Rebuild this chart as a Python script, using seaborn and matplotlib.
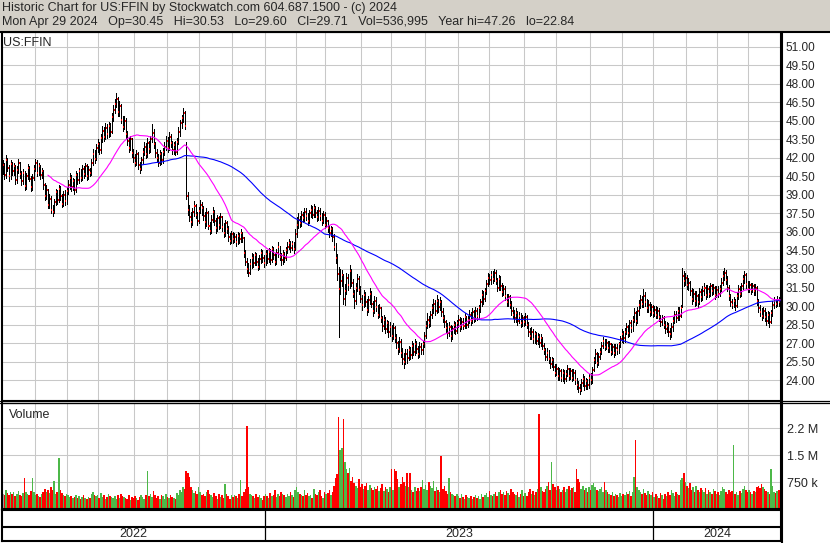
import numpy as np
import pandas as pd
import matplotlib
matplotlib.use('Agg')
import matplotlib.pyplot as plt
import seaborn as sns
from matplotlib.patches import Rectangle
from matplotlib.lines import Line2D

# US:FFIN daily bars (May 2022 - Apr 29 2024), 10 sessions per row
close = [
    41.4, 40.6, 41.8, 41.2, 40.5, 41.5, 40.9, 41.3, 40.2, 41.0,
    41.6, 40.7, 40.1, 40.8, 39.7, 40.5, 41.2, 40.3, 39.6, 40.4,
    41.1, 41.6, 40.8, 41.3, 40.6, 40.9, 39.8, 38.9, 39.4, 38.2,
    38.7, 37.8, 37.6, 38.4, 39.2, 38.6, 39.5, 38.9, 38.3, 39.0,
    38.5, 39.3, 39.8, 40.4, 39.6, 40.1, 39.4, 40.6, 40.2, 40.9,
    40.4, 41.1, 40.7, 41.3, 40.5, 41.0, 40.8, 41.6, 42.3, 41.9,
    42.8, 43.1, 42.6, 43.6, 44.2, 43.7, 44.4, 43.9, 44.6, 44.1,
    45.3, 45.9, 46.4, 46.8, 45.7, 46.2, 45.1, 44.5, 45.0, 43.9,
    43.4, 42.8, 43.5, 42.4, 42.0, 41.6, 42.3, 41.4, 41.1, 41.8,
    42.5, 42.9, 42.3, 43.2, 42.7, 43.5, 44.0, 43.1, 42.4, 42.0,
    41.6, 42.3, 41.8, 42.5, 42.9, 43.4, 42.8, 43.7, 43.2, 42.6,
    43.0, 42.5, 43.3, 44.1, 44.8, 45.2, 45.6, 44.6, 38.9, 37.8,
    37.2, 36.8, 37.6, 38.1, 37.4, 36.9, 37.7, 38.2, 37.9, 37.3,
    36.8, 37.5, 36.5, 36.1, 37.0, 37.6, 36.9, 36.3, 37.1, 36.6,
    37.2, 36.4, 35.9, 36.7, 36.2, 35.6, 35.3, 35.8, 35.4, 35.6,
    35.2, 35.7, 35.4, 35.9, 35.5, 34.3, 33.6, 33.0, 32.7, 33.4,
    33.9, 33.5, 34.1, 33.6, 33.2, 33.8, 34.3, 33.9, 33.5, 34.2,
    33.8, 34.4, 33.7, 34.6, 34.1, 33.6, 34.3, 34.8, 34.0, 33.7,
    34.2, 33.9, 34.5, 34.8, 35.1, 34.7, 35.0, 34.6, 35.8, 36.6,
    37.0, 36.7, 37.4, 37.1, 37.6, 37.3, 36.9, 37.5, 37.8, 37.4,
    37.9, 37.5, 37.2, 37.7, 37.3, 36.9, 37.4, 36.6, 36.9, 36.3,
    35.9, 36.2, 35.6, 34.8, 33.9, 32.6, 31.4, 32.0, 32.5, 30.6,
    31.2, 32.3, 31.7, 32.8, 31.9, 31.0, 30.4, 31.5, 32.2, 31.3,
    30.6, 30.1, 30.9, 30.3, 29.7, 30.5, 31.0, 30.2, 29.6, 30.4,
    29.9, 29.3, 29.8, 29.0, 28.4, 28.9, 28.1, 28.6, 27.9, 28.3,
    27.6, 28.2, 27.4, 27.0, 26.5, 27.1, 26.2, 25.7, 25.5, 26.1,
    25.8, 26.4, 26.0, 26.8, 26.3, 26.9, 26.5, 26.1, 26.7, 26.4,
    26.9, 27.6, 28.4, 28.9, 28.6, 29.3, 29.8, 30.2, 29.6, 30.4,
    29.9, 30.3, 29.5, 29.0, 28.7, 28.2, 27.8, 28.3, 27.6, 28.1,
    28.5, 28.0, 28.6, 28.9, 28.3, 28.7, 28.4, 29.1, 28.5, 28.9,
    29.3, 28.8, 29.5, 29.0, 29.6, 29.2, 29.8, 30.3, 30.9, 30.6,
    31.2, 31.8, 32.3, 32.1, 32.5, 32.2, 32.7, 32.0, 31.5, 32.2,
    31.6, 31.1, 31.4, 30.8, 30.3, 30.7, 30.1, 29.6, 29.3, 29.0,
    29.4, 28.8, 29.2, 28.6, 29.0, 28.7, 29.1, 28.5, 27.9, 27.6,
    27.9, 27.3, 27.7, 27.2, 27.5, 27.0, 27.4, 26.8, 26.4, 25.9,
    26.2, 25.7, 25.3, 25.6, 25.1, 24.6, 24.9, 24.3, 24.7, 24.2,
    24.6, 24.1, 24.5, 24.9, 24.3, 24.7, 24.2, 24.6, 24.0, 23.6,
    23.4, 23.2, 23.8, 24.1, 23.5, 23.9, 23.6, 24.2, 24.0, 24.8,
    25.6, 26.1, 25.4, 25.9, 26.3, 26.8, 27.2, 26.7, 27.0, 26.6,
    26.9, 26.3, 26.7, 26.2, 26.6, 26.4, 26.9, 27.3, 27.7, 27.4,
    27.9, 28.3, 27.8, 28.6, 28.2, 28.9, 29.4, 28.8, 29.6, 30.1,
    30.5, 30.2, 30.8, 30.3, 29.8, 30.1, 29.5, 29.9, 29.4, 29.7,
    29.3, 29.6, 29.1, 28.7, 29.0, 28.5, 28.1, 28.4, 27.9, 27.7,
    28.3, 28.8, 29.3, 29.0, 29.6, 29.2, 29.8, 32.4, 32.0, 32.3,
    31.7, 31.9, 31.2, 30.6, 31.0, 30.4, 30.8, 30.3, 31.1, 30.7,
    31.2, 31.5, 30.9, 31.4, 31.0, 31.6, 31.2, 31.5, 30.9, 31.3,
    31.0, 31.4, 31.9, 32.4, 32.7, 32.1, 31.5, 30.8, 30.3, 30.1,
    30.4, 30.0, 30.8, 31.4, 31.0, 31.6, 32.2, 32.5, 31.8, 31.4,
    31.7, 31.3, 31.6, 31.2, 31.5, 30.4, 29.8, 29.5, 29.2, 29.6,
    29.1, 28.8, 29.3, 28.7, 29.4, 30.1, 30.4, 30.2, 30.5, 30.3,
    29.71,
]

high = [
    41.8, 41.6, 42.2, 42.0, 41.4, 41.8, 41.7, 41.6, 41.4, 41.3,
    41.9, 41.7, 40.9, 41.1, 40.9, 40.8, 41.5, 41.3, 40.5, 40.7,
    41.4, 41.9, 41.8, 41.6, 41.4, 41.2, 41.0, 40.0, 39.8, 39.5,
    39.1, 38.9, 38.2, 38.7, 39.5, 39.4, 39.8, 39.7, 39.1, 39.3,
    39.4, 39.6, 40.2, 40.8, 40.6, 40.4, 40.3, 40.9, 40.8, 41.2,
    41.1, 41.4, 41.3, 41.6, 41.5, 41.3, 41.2, 41.9, 42.7, 42.6,
    43.1, 43.5, 43.3, 43.9, 44.6, 44.5, 44.8, 44.7, 44.9, 44.8,
    45.6, 46.3, 46.8, 47.26, 46.9, 46.6, 46.4, 45.4, 45.4, 45.2,
    44.2, 43.6, 43.8, 43.6, 42.7, 42.3, 42.6, 42.5, 41.7, 42.1,
    42.8, 43.3, 43.2, 43.6, 43.4, 43.8, 44.7, 44.3, 43.3, 42.7,
    42.3, 42.6, 42.5, 42.8, 43.3, 43.8, 43.7, 44.1, 43.9, 43.4,
    43.3, 43.4, 43.6, 44.5, 45.1, 45.5, 46.0, 45.8, 43.3, 39.2,
    38.2, 37.6, 37.9, 38.5, 38.3, 37.6, 38.0, 38.6, 38.4, 38.1,
    37.6, 37.9, 37.7, 36.8, 37.4, 38.0, 37.8, 37.1, 37.4, 37.3,
    37.5, 37.3, 36.7, 37.0, 36.9, 36.5, 35.9, 36.1, 36.0, 35.9,
    35.8, 36.0, 35.9, 36.2, 36.0, 35.6, 34.5, 33.9, 33.5, 33.8,
    34.3, 34.2, 34.4, 34.3, 33.9, 34.1, 34.6, 34.5, 34.1, 34.5,
    34.5, 34.7, 34.6, 34.9, 34.8, 34.3, 34.6, 35.2, 34.9, 34.3,
    34.5, 34.4, 34.8, 35.2, 35.4, 35.3, 35.3, 35.2, 36.2, 37.2,
    37.5, 37.3, 37.7, 37.6, 37.9, 37.9, 37.5, 37.8, 38.2, 38.1,
    38.3, 38.1, 37.8, 38.0, 37.9, 37.5, 37.7, 37.6, 37.2, 37.0,
    36.6, 36.5, 36.4, 35.8, 35.1, 34.2, 33.2, 33.0, 32.9, 32.6,
    31.8, 32.7, 32.6, 33.3, 33.0, 32.2, 31.3, 31.9, 32.6, 32.4,
    31.6, 30.9, 31.3, 31.1, 30.6, 30.8, 31.5, 31.2, 30.4, 30.8,
    30.7, 30.1, 30.2, 29.9, 29.2, 29.3, 29.1, 28.9, 28.8, 28.7,
    28.5, 28.6, 28.4, 27.7, 27.2, 27.5, 27.3, 26.6, 26.2, 26.5,
    26.5, 26.8, 26.7, 27.2, 27.0, 27.3, 27.2, 26.8, 27.1, 27.0,
    27.2, 27.9, 28.8, 29.4, 29.2, 29.6, 30.2, 30.6, 30.5, 30.9,
    30.6, 30.7, 30.5, 29.8, 29.3, 28.9, 28.6, 28.7, 28.5, 28.4,
    28.8, 28.7, 28.9, 29.3, 29.1, 29.0, 29.0, 29.4, 29.2, 29.2,
    29.7, 29.5, 29.8, 29.7, 29.9, 29.8, 30.1, 30.6, 31.3, 31.2,
    31.5, 32.1, 32.7, 32.6, 32.8, 32.8, 33.0, 32.9, 32.3, 32.5,
    32.4, 31.9, 31.7, 31.6, 31.0, 31.0, 30.9, 30.4, 29.9, 29.7,
    29.8, 29.6, 29.5, 29.4, 29.3, 29.2, 29.4, 29.3, 28.7, 28.2,
    28.3, 28.1, 28.0, 27.9, 27.8, 27.7, 27.7, 27.5, 27.0, 26.6,
    26.6, 26.4, 25.9, 25.9, 25.8, 25.3, 25.3, 25.1, 25.0, 24.9,
    24.9, 24.8, 24.8, 25.2, 25.0, 25.0, 24.9, 24.9, 24.8, 24.2,
    23.9, 23.7, 24.1, 24.5, 24.3, 24.2, 24.1, 24.5, 24.6, 25.1,
    25.9, 26.5, 26.3, 26.2, 26.6, 27.1, 27.5, 27.3, 27.3, 27.2,
    27.2, 27.0, 26.9, 26.9, 26.9, 26.9, 27.1, 27.6, 28.1, 28.0,
    28.2, 28.6, 28.5, 28.9, 28.9, 29.2, 29.8, 29.6, 29.9, 30.5,
    30.9, 30.8, 31.4, 31.1, 30.6, 30.5, 30.3, 30.2, 30.1, 30.0,
    30.0, 29.9, 29.8, 29.3, 29.3, 29.2, 28.8, 28.7, 28.6, 28.2,
    28.6, 29.1, 29.6, 29.6, 29.9, 29.9, 30.1, 33.1, 32.8, 32.7,
    32.5, 32.3, 32.0, 31.5, 31.4, 31.2, 31.2, 31.0, 31.5, 31.4,
    31.6, 31.9, 31.7, 31.7, 31.6, 31.9, 31.8, 31.8, 31.6, 31.6,
    31.6, 31.7, 32.3, 32.8, 33.1, 32.9, 32.4, 31.7, 31.0, 30.6,
    30.7, 30.6, 31.1, 31.7, 31.6, 31.9, 32.5, 32.8, 32.7, 32.0,
    32.0, 31.9, 31.9, 31.8, 31.8, 31.6, 30.6, 30.1, 29.8, 29.9,
    29.8, 29.5, 29.6, 29.5, 29.7, 30.4, 30.7, 30.6, 30.8, 30.7,
    30.53,
]

low = [
    40.7, 40.3, 40.4, 40.9, 40.1, 40.3, 40.6, 40.6, 39.9, 40.0,
    40.8, 40.4, 39.8, 39.9, 39.4, 39.5, 40.3, 40.1, 39.3, 39.4,
    40.2, 40.9, 40.5, 40.6, 40.3, 40.4, 39.5, 38.6, 38.7, 37.9,
    37.9, 37.5, 37.3, 37.5, 38.2, 38.3, 38.4, 38.6, 38.0, 38.1,
    38.2, 38.3, 39.1, 39.5, 39.3, 39.4, 39.1, 39.2, 39.9, 40.0,
    40.1, 40.2, 40.4, 40.5, 40.2, 40.3, 40.5, 40.6, 41.4, 41.6,
    41.8, 42.5, 42.3, 42.4, 43.3, 43.4, 43.5, 43.6, 43.7, 43.8,
    44.0, 45.0, 45.6, 46.1, 45.4, 45.4, 44.8, 44.2, 44.3, 43.6,
    43.0, 42.5, 42.6, 42.1, 41.7, 41.3, 41.4, 41.1, 40.8, 41.0,
    41.6, 42.2, 42.0, 42.1, 42.4, 42.5, 43.3, 42.8, 42.1, 41.7,
    41.3, 41.4, 41.5, 41.6, 42.2, 42.6, 42.5, 42.6, 42.9, 42.3,
    42.3, 42.2, 42.3, 43.1, 43.8, 44.4, 44.9, 44.3, 38.7, 37.4,
    36.9, 36.4, 36.6, 37.3, 37.1, 36.6, 36.7, 37.5, 37.4, 37.0,
    36.3, 36.5, 36.2, 35.8, 35.9, 36.8, 36.6, 35.9, 36.1, 36.2,
    36.3, 36.1, 35.6, 35.7, 35.9, 35.3, 35.0, 35.1, 35.1, 35.2,
    34.9, 35.0, 35.1, 35.2, 35.2, 34.0, 33.3, 32.7, 32.4, 32.6,
    33.1, 33.2, 33.3, 33.3, 32.9, 33.0, 33.5, 33.6, 33.2, 33.3,
    33.5, 33.6, 33.4, 33.6, 33.8, 33.3, 33.4, 34.0, 33.7, 33.3,
    33.4, 33.6, 33.7, 34.3, 34.6, 34.4, 34.5, 34.3, 34.5, 35.6,
    36.3, 36.4, 36.5, 36.8, 36.9, 37.0, 36.6, 36.7, 37.2, 37.1,
    37.2, 37.2, 36.9, 37.0, 37.0, 36.6, 36.7, 36.3, 36.4, 36.0,
    35.6, 35.7, 35.3, 34.5, 33.5, 32.1, 27.5, 31.0, 31.6, 30.2,
    30.1, 31.0, 31.3, 31.5, 31.6, 30.7, 29.8, 30.2, 31.2, 31.0,
    30.3, 29.7, 29.9, 30.0, 29.3, 29.5, 30.2, 29.9, 29.2, 29.4,
    29.6, 29.0, 29.1, 28.7, 28.0, 28.1, 27.8, 27.9, 27.5, 27.6,
    27.2, 27.3, 27.1, 26.6, 26.1, 26.3, 25.9, 25.3, 25.0, 25.3,
    25.4, 25.6, 25.7, 25.8, 26.0, 26.0, 26.2, 25.8, 25.9, 26.1,
    26.1, 26.7, 27.4, 28.2, 28.3, 28.4, 29.0, 29.4, 29.3, 29.4,
    29.5, 29.7, 29.2, 28.7, 28.3, 27.9, 27.4, 27.6, 27.2, 27.3,
    27.8, 27.7, 27.8, 28.3, 28.0, 28.1, 28.1, 28.2, 28.2, 28.3,
    28.6, 28.5, 28.6, 28.7, 28.8, 28.9, 29.0, 29.5, 30.0, 30.2,
    30.4, 31.0, 31.6, 31.8, 31.8, 31.9, 32.0, 31.8, 31.2, 31.3,
    31.3, 30.8, 30.9, 30.5, 30.0, 30.0, 29.8, 29.3, 29.0, 28.7,
    28.7, 28.5, 28.6, 28.3, 28.4, 28.4, 28.5, 28.2, 27.6, 27.3,
    27.3, 27.0, 27.0, 26.9, 26.9, 26.7, 26.8, 26.5, 26.1, 25.6,
    25.6, 25.4, 25.0, 25.1, 24.8, 24.3, 24.4, 24.0, 24.0, 23.9,
    23.9, 23.8, 23.9, 24.3, 24.0, 24.1, 23.9, 24.0, 23.7, 23.3,
    23.0, 22.84, 23.1, 23.5, 23.2, 23.3, 23.3, 23.4, 23.7, 23.8,
    24.7, 25.4, 25.1, 25.2, 25.7, 26.1, 26.6, 26.4, 26.5, 26.3,
    26.3, 26.0, 26.1, 25.9, 26.0, 26.1, 26.2, 26.7, 27.1, 27.0,
    27.1, 27.7, 27.5, 27.6, 27.9, 28.0, 28.7, 28.5, 28.6, 29.3,
    29.8, 29.9, 29.9, 30.0, 29.5, 29.5, 29.2, 29.3, 29.1, 29.2,
    29.0, 29.0, 28.8, 28.4, 28.5, 28.2, 27.8, 27.9, 27.6, 27.3,
    27.5, 28.0, 28.6, 28.7, 28.9, 28.9, 29.1, 29.9, 31.6, 31.7,
    31.4, 31.3, 30.9, 30.2, 30.4, 30.0, 30.1, 29.9, 30.2, 30.4,
    30.5, 30.9, 30.6, 30.7, 30.7, 30.8, 30.9, 31.0, 30.6, 30.7,
    30.7, 30.8, 31.2, 31.7, 32.1, 31.8, 31.2, 30.5, 30.0, 29.8,
    29.9, 29.7, 29.9, 30.6, 30.7, 30.8, 31.4, 31.9, 31.5, 31.1,
    31.1, 31.0, 31.1, 30.9, 30.9, 30.1, 29.5, 29.2, 28.9, 29.0,
    28.8, 28.5, 28.6, 28.3, 28.6, 29.2, 29.8, 29.9, 30.0, 30.0,
    29.60,
]

# volume in thousands of shares
volume_k = [
    420, 380, 520, 450, 390, 460, 410, 480, 370, 430,
    500, 390, 360, 440, 850, 470, 420, 380, 510, 850,
    460, 390, 420, 370, 330, 410, 460, 560, 480, 520,
    450, 600, 540, 790, 430, 480, 1420, 520, 440, 390,
    350, 410, 380, 330, 360, 300, 340, 380, 310, 350,
    290, 330, 380, 310, 270, 340, 300, 420, 480, 390,
    360, 400, 310, 450, 330, 380, 290, 340, 410, 360,
    320, 300, 350, 290, 380, 310, 430, 360, 330, 300,
    280, 390, 260, 330, 300, 370, 310, 250, 340, 400,
    320, 290, 380, 1060, 360, 420, 330, 500, 380, 310,
    350, 290, 400, 360, 280, 420, 330, 300, 390, 340,
    300, 280, 440, 380, 520, 470, 600, 560, 1050, 1000,
    880, 620, 540, 450, 510, 430, 600, 460, 390, 420,
    360, 470, 530, 410, 380, 320, 450, 350, 290, 410,
    330, 380, 300, 700, 420, 360, 290, 380, 320, 400,
    350, 310, 420, 800, 360, 480, 560, 2300, 620, 420,
    380, 350, 300, 420, 330, 380, 300, 260, 350, 410,
    370, 300, 440, 350, 390, 520, 330, 420, 360, 480,
    430, 380, 320, 410, 350, 460, 380, 330, 540, 620,
    480, 410, 390, 350, 520, 380, 440, 360, 400, 310,
    560, 430, 380, 470, 520, 360, 310, 480, 410, 450,
    520, 380, 470, 640, 850, 980, 2560, 1650, 1700, 2500,
    1300, 1100, 1000, 1150, 780, 880, 720, 650, 590, 830,
    610, 700, 560, 640, 720, 520, 660, 590, 530, 620,
    560, 640, 490, 580, 690, 510, 600, 550, 480, 620,
    1100, 540, 1120, 1050, 820, 610, 700, 880, 760, 650,
    1000, 620, 1000, 540, 480, 620, 510, 580, 490, 600,
    800, 560, 680, 520, 750, 640, 590, 770, 500, 620,
    540, 480, 1480, 560, 640, 500, 430, 850, 470, 410,
    380, 350, 430, 360, 300, 410, 340, 290, 380, 330,
    310, 360, 280, 340, 390, 300, 350, 280, 420, 330,
    380, 450, 340, 510, 400, 360, 430, 470, 350, 480,
    540, 420, 480, 380, 510, 450, 390, 560, 470, 420,
    380, 460, 330, 410, 520, 370, 440, 350, 480, 560,
    430, 510, 390, 470, 550, 2640, 620, 510, 480, 560,
    640, 750, 520, 1300, 690, 600, 520, 640, 560, 480,
    540, 610, 470, 560, 650, 530, 590, 620, 480, 1100,
    820, 760, 560, 640, 520, 590, 470, 620, 540, 680,
    720, 600, 540, 490, 560, 620, 470, 750, 540, 480,
    420, 390, 460, 350, 410, 380, 330, 440, 360, 410,
    390, 470, 420, 510, 360, 480, 900, 1920, 620, 540,
    480, 420, 560, 450, 390, 510, 430, 380, 470, 340,
    420, 360, 310, 450, 380, 290, 420, 350, 480, 400,
    530, 440, 360, 470, 410, 380, 800, 850, 1000, 760,
    640, 580, 720, 520, 610, 460, 650, 540, 470, 580,
    520, 460, 590, 410, 540, 480, 430, 560, 500, 420,
    470, 390, 510, 620, 560, 480, 430, 540, 460, 510,
    1780, 420, 480, 390, 510, 450, 560, 640, 520, 470,
    540, 480, 420, 510, 460, 600, 650, 580, 700, 620,
    560, 510, 470, 420, 1100, 640, 480, 450, 510, 540,
    537,
]

holidays = ['2022-05-30', '2022-06-20', '2022-07-04', '2022-09-05', '2022-11-24',
            '2022-12-26', '2023-01-02', '2023-01-16', '2023-02-20', '2023-04-07',
            '2023-05-29', '2023-06-19', '2023-07-04', '2023-09-04', '2023-11-23',
            '2023-12-25', '2024-01-01', '2024-01-15', '2024-02-19', '2024-03-29']

price_ticks = np.arange(24.0, 51.01, 1.5)
vol_ticks = [750000, 1500000, 2250000]
vol_labels = ['750 k', '1.5 M', '2.2 M']

header1 = 'Historic Chart for US:FFIN by Stockwatch.com 604.687.1500 - (c) 2024'
header2 = ('Mon Apr 29 2024   Op=30.45   Hi=30.53   Lo=29.60   Cl=29.71   '
           'Vol=536,995   Year hi=47.26   lo=22.84')

sns.set_style('white')
plt.rcParams['font.family'] = ['Liberation Sans', 'DejaVu Sans']

n = len(close)
dates = pd.bdate_range('2022-04-01', '2024-04-29', freq='C', holidays=holidays)[-n:]
df = pd.DataFrame({'date': dates, 'close': close, 'high': high, 'low': low,
                   'volume': np.array(volume_k) * 1000.0})
df['i'] = np.arange(n)
df['ma30'] = df['close'].rolling(30).mean()
df['ma90'] = df['close'].rolling(90).mean()
chg = df['close'].diff().fillna(0)
vol_colors = np.where(chg > 0, '#4cb848', np.where(chg < 0, '#ff0000', '#a0a0a0'))

prev = df['date'].shift()
month_starts = df.index[(df['date'].dt.month != prev.dt.month)][1:]
year_starts = df.index[(df['date'].dt.year != prev.dt.year)][1:]

W, H = 830, 543
fig = plt.figure(figsize=(W / 100, H / 100), dpi=100)
fig.patch.set_facecolor('white')

def box(l, t, r, b):
    return [l / W, 1 - b / H, (r - l) / W, (b - t) / H]

def hline_px(y, x0=0, x1=W, lw=1.5):
    fig.add_artist(Line2D([x0 / W, x1 / W], [1 - y / H, 1 - y / H], color='black', lw=lw))

# header band
fig.patches.append(Rectangle((0, 1 - 31 / H), 1, 31 / H, transform=fig.transFigure,
                             facecolor='#d4d0c8', edgecolor='none', zorder=0))
fig.text(2 / W, 1 - 11 / H, header1, fontsize=9.0, va='baseline', ha='left')
fig.text(2 / W, 1 - 24.5 / H, header2, fontsize=9.0, va='baseline', ha='left')

grid_c = '#c8c8c8'
xl = (-0.5, n - 0.5)

# price panel
ax = fig.add_axes(box(2, 32, 781, 400))
ax.set_xlim(xl)
ax.set_ylim(22.39, 52.19)
for m in month_starts:
    ax.axvline(m - 0.5, color=grid_c, lw=0.75, zorder=0)
for p in price_ticks:
    ax.axhline(p, color=grid_c, lw=0.75, zorder=0)
ax.vlines(df['i'], df['low'], df['high'], colors='black', lw=0.72, zorder=3,
          antialiased=False)
ax.hlines(df['close'], df['i'] + 0.3, df['i'] + 0.95, colors='#ff0000', lw=1.1,
          zorder=3.5, antialiased=False)
sns.lineplot(data=df, x='i', y='ma90', color='#0000ff', lw=0.8, ax=ax, zorder=4, legend=False)
sns.lineplot(data=df, x='i', y='ma30', color='#ff00ff', lw=0.8, ax=ax, zorder=5, legend=False)
ax.set_xlabel('')
ax.set_ylabel('')
ax.set_xticks([])
ax.yaxis.tick_right()
ax.set_yticks(price_ticks)
ax.set_yticklabels([f'{p:.2f}' for p in price_ticks])
ax.tick_params(axis='y', length=0, pad=3.5, labelsize=8.5)
for s in ax.spines.values():
    s.set_color('black')
    s.set_linewidth(0.8)
ax.spines['left'].set_linewidth(1.5)
ax.spines['right'].set_linewidth(1.5)
fig.text(3.5 / W, 1 - 45.5 / H, 'US:FFIN', fontsize=9.0, va='baseline', ha='left')

# volume panel
axv = fig.add_axes(box(2, 402.5, 781, 509))
axv.set_xlim(xl)
axv.set_ylim(0, 2.96e6)
for m in month_starts:
    axv.axvline(m - 0.5, color=grid_c, lw=0.75, zorder=0)
for v in vol_ticks:
    axv.axhline(v, color=grid_c, lw=0.75, zorder=0)
axv.bar(df['i'], df['volume'], width=1.0, color=vol_colors, linewidth=0, zorder=2,
        antialiased=False)
axv.set_xticks([])
axv.yaxis.tick_right()
axv.set_yticks(vol_ticks)
axv.set_yticklabels(vol_labels)
axv.tick_params(axis='y', length=0, pad=4, labelsize=9.0)
for s in axv.spines.values():
    s.set_color('black')
    s.set_linewidth(0.8)
axv.spines['left'].set_linewidth(1.5)
axv.spines['right'].set_linewidth(1.5)
axv.spines['bottom'].set_linewidth(1.5)
fig.text(9 / W, 1 - 417.5 / H, 'Volume', fontsize=9.0, va='baseline', ha='left')

# date strip
axd = fig.add_axes(box(2, 510, 781, 541))
axd.set_xlim(xl)
axd.set_ylim(0, 1)
axd.set_xticks([])
axd.set_yticks([])
axd.axhline(14 / 31, color='black', lw=1.5)
bounds = [xl[0]] + [y - 0.5 for y in year_starts] + [xl[1]]
for b in bounds[1:-1]:
    axd.axvline(b, color='black', lw=0.9)
years = [df['date'].iloc[0].year] + [df['date'].iloc[y].year for y in year_starts]
for k, yr in enumerate(years):
    axd.text((bounds[k] + bounds[k + 1]) / 2, 7 / 31, str(yr), ha='center', va='center',
             fontsize=9.0)
for s in axd.spines.values():
    s.set_color('black')
    s.set_linewidth(1.5)

# frame lines
hline_px(31.5, lw=1.5)
hline_px(400.5, lw=0.9)
hline_px(402.5, lw=0.9)
fig.add_artist(Line2D([781.5 / W, 781.5 / W], [1 - 32 / H, 0], color='black', lw=1.5))

fig.savefig('out.png', dpi=100, facecolor='white')
